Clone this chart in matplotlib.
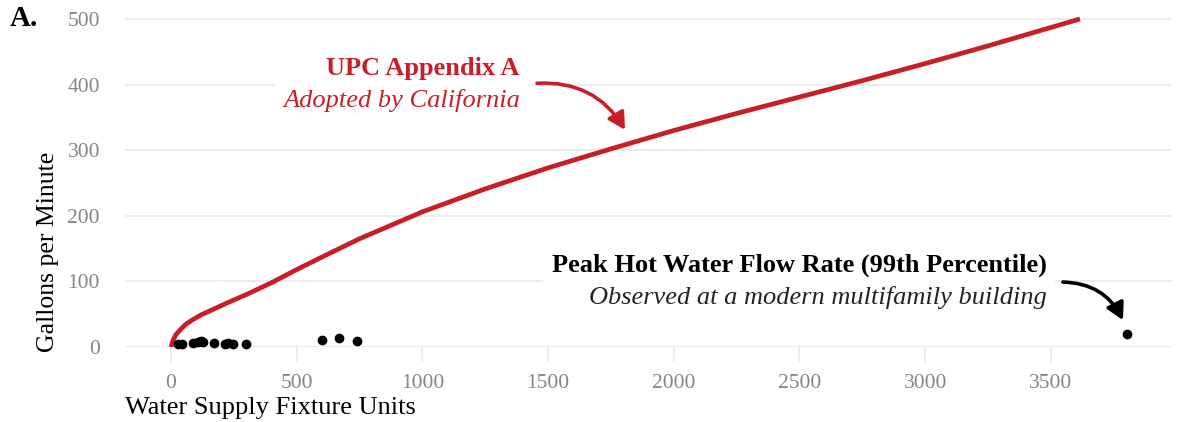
import matplotlib
matplotlib.use("Agg")
import matplotlib.pyplot as plt
import numpy as np

plt.rcParams['font.family'] = ['Liberation Serif', 'DejaVu Serif']

# UPC Appendix A design curve (fixture units -> gpm)
upc_wsfu = [0, 8, 20, 36, 60, 88, 120, 160, 222, 300, 400, 500, 600, 750, 1000,
            1250, 1500, 1750, 2000, 2250, 2500, 2750, 3000, 3250, 3616]
upc_gpm = [0, 10, 19, 26, 35, 42, 49, 56, 67, 80, 98, 118, 137, 165, 206,
           241, 273, 302, 330, 356, 381, 406, 432, 459, 500]

# observed 99th percentile peak hot water flow per building
obs_wsfu = [28, 44, 88, 107, 118, 127, 171, 215, 227, 247, 298, 601, 668, 740, 3803]
obs_gpm = [5, 5, 6, 8, 9, 7, 6, 5, 6, 5, 5, 11, 14, 9, 20]

red = '#c81e28'
grid_col = '#ebebeb'
tick_grey = '#858585'

fig = plt.figure(figsize=(11.8, 4.22), dpi=100)
ax = fig.add_axes([0.1059, 0.1777, 0.8873, 0.7851])

ax.plot(upc_wsfu, upc_gpm, color=red, lw=3.4, solid_capstyle='butt',
        solid_joinstyle='round', zorder=4)
ax.scatter(obs_wsfu, obs_gpm, s=36, color='black', zorder=5, clip_on=False)

ax.set_xlim(-183, 3982)
ax.set_ylim(0, 505)
ax.set_xticks(np.arange(0, 3501, 500))
ax.set_yticks(np.arange(0, 501, 100))
ax.yaxis.grid(True, color=grid_col, lw=1.3, zorder=0)
ax.set_axisbelow(True)
for s in ax.spines.values():
    s.set_visible(False)
ax.tick_params(axis='x', direction='out', length=10.5, width=1.2, color=grid_col,
               labelcolor=tick_grey, labelsize=15.5, pad=9)
ax.tick_params(axis='y', length=0, labelcolor=tick_grey, labelsize=15.5, pad=18)

ax.set_ylabel('Gallons per Minute', fontsize=18.5, loc='bottom')
ax.yaxis.set_label_coords(-0.063, -0.015)
ax.set_xlabel('Water Supply Fixture Units', fontsize=19, loc='left')
ax.xaxis.set_label_coords(0, -0.15)

fig.text(0.008, 0.957, 'A.', fontsize=21, fontweight='bold', va='center')

box = dict(facecolor='white', edgecolor='none', pad=6)
ax.text(1388, 425, 'UPC Appendix A', color=red, fontsize=19, fontweight='bold',
        ha='right', va='center', bbox=box, zorder=3)
ax.text(1388, 376, 'Adopted by California', color=red, fontsize=19, style='italic',
        ha='right', va='center', bbox=box, zorder=3)
ax.annotate('', xy=(1806, 331), xytext=(1456, 402),
            arrowprops=dict(arrowstyle='-|>,head_length=1.0,head_width=0.55', color=red,
                            lw=2.6, connectionstyle='arc3,rad=-0.3', shrinkA=0, shrinkB=0))

ax.text(3484, 125, 'Peak Hot Water Flow Rate (99th Percentile)', color='black',
        fontsize=19, fontweight='bold', ha='right', va='center', bbox=box, zorder=3)
ax.text(3484, 76, 'Observed at a modern multifamily building', color='#222222',
        fontsize=19, style='italic', ha='right', va='center', bbox=box, zorder=3)
ax.annotate('', xy=(3787, 41), xytext=(3548, 99),
            arrowprops=dict(arrowstyle='-|>,head_length=1.0,head_width=0.55', color='black',
                            lw=2.6, connectionstyle='arc3,rad=-0.3', shrinkA=0, shrinkB=0))

fig.savefig('out.png', dpi=100, facecolor='white')
